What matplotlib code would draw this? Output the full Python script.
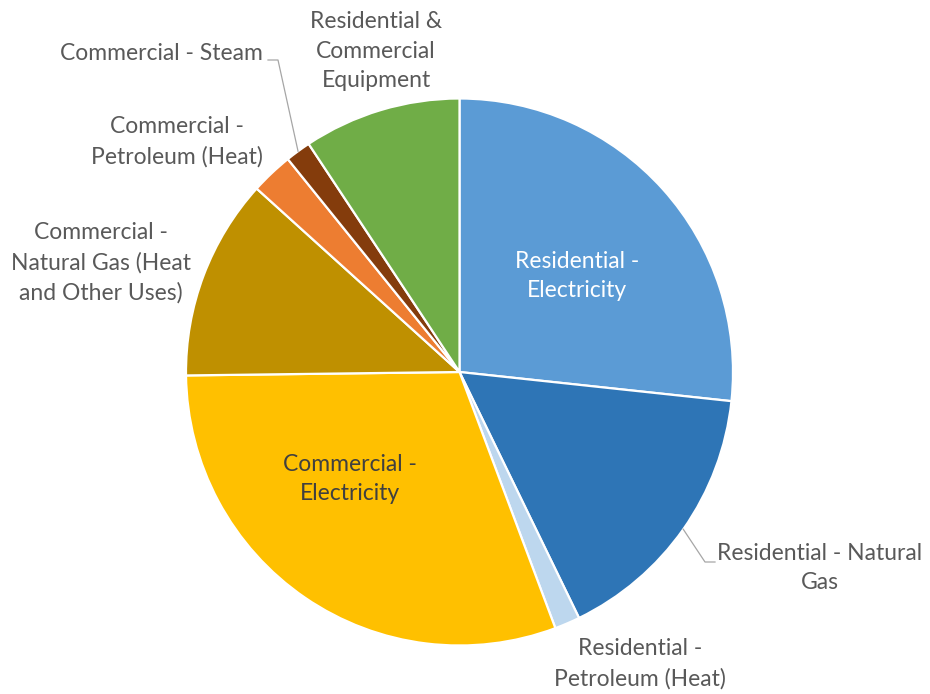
import matplotlib
matplotlib.use("Agg")
import matplotlib.pyplot as plt
import numpy as np

# Energy use shares by sector (percent), drawn clockwise from 12 o'clock
categories = [
    "Residential - Electricity",
    "Residential - Natural Gas",
    "Residential - Petroleum (Heat)",
    "Commercial - Electricity",
    "Commercial - Natural Gas (Heat and Other Uses)",
    "Commercial - Petroleum (Heat)",
    "Commercial - Steam",
    "Residential & Commercial Equipment",
]
shares = [26.7, 16.1, 1.5, 30.5, 11.9, 2.5, 1.5, 9.3]
colors = ["#5B9BD5", "#2E75B6", "#BDD7EE", "#FFC000",
          "#BF9000", "#ED7D31", "#843C0C", "#70AD47"]

# Wrapped label text as displayed
label_text = [
    "Residential -\nElectricity",
    "Residential - Natural\nGas",
    "Residential -\nPetroleum (Heat)",
    "Commercial -\nElectricity",
    "Commercial -\nNatural Gas (Heat\nand Other Uses)",
    "Commercial -\nPetroleum (Heat)",
    "Commercial - Steam",
    "Residential &\nCommercial\nEquipment",
]

W, H = 930, 694
fig = plt.figure(figsize=(W / 100, H / 100), dpi=100)
ax = fig.add_axes([0, 0, 1, 1])

cx, cy, R = 459.5, H - 372, 273.5
wedges, _ = ax.pie(
    shares, colors=colors, startangle=90, counterclock=False,
    center=(cx, cy), radius=R, frame=True,
    wedgeprops=dict(edgecolor="white", linewidth=1.6),
)
ax.set_xlim(0, W)
ax.set_ylim(0, H)
ax.set_aspect("equal")
ax.axis("off")

fs = 16.5
gray = "#595959"

# label centres (x, y from the top edge), text colour
label_pos = [
    (577, 276, "white"),
    (820, 568, gray),
    (640, 664, gray),
    (350, 479, "#404040"),
    (101, 263, gray),
    (177, 142, gray),
    (161, 53, gray),
    (376, 51, gray),
]

for txt, (lx, ly, col) in zip(label_text, label_pos):
    ax.text(lx, H - ly, txt, ha="center", va="center", fontsize=fs,
            color=col, linespacing=1.5, family=["Lato", "DejaVu Sans"])


def edge_point(w):
    mid = np.deg2rad((w.theta1 + w.theta2) / 2)
    return cx + R * np.cos(mid), cy + R * np.sin(mid)


# leader lines
lead = "#A6A6A6"
ex, ey = edge_point(wedges[1])
ax.plot([ex, 705, 715], [ey, H - 562, H - 562], color=lead, lw=0.9)
ex, ey = edge_point(wedges[6])
ax.plot([ex, 278, 268], [ey, H - 60, H - 60], color=lead, lw=0.9)

fig.savefig("out.png", dpi=100, facecolor="white")
